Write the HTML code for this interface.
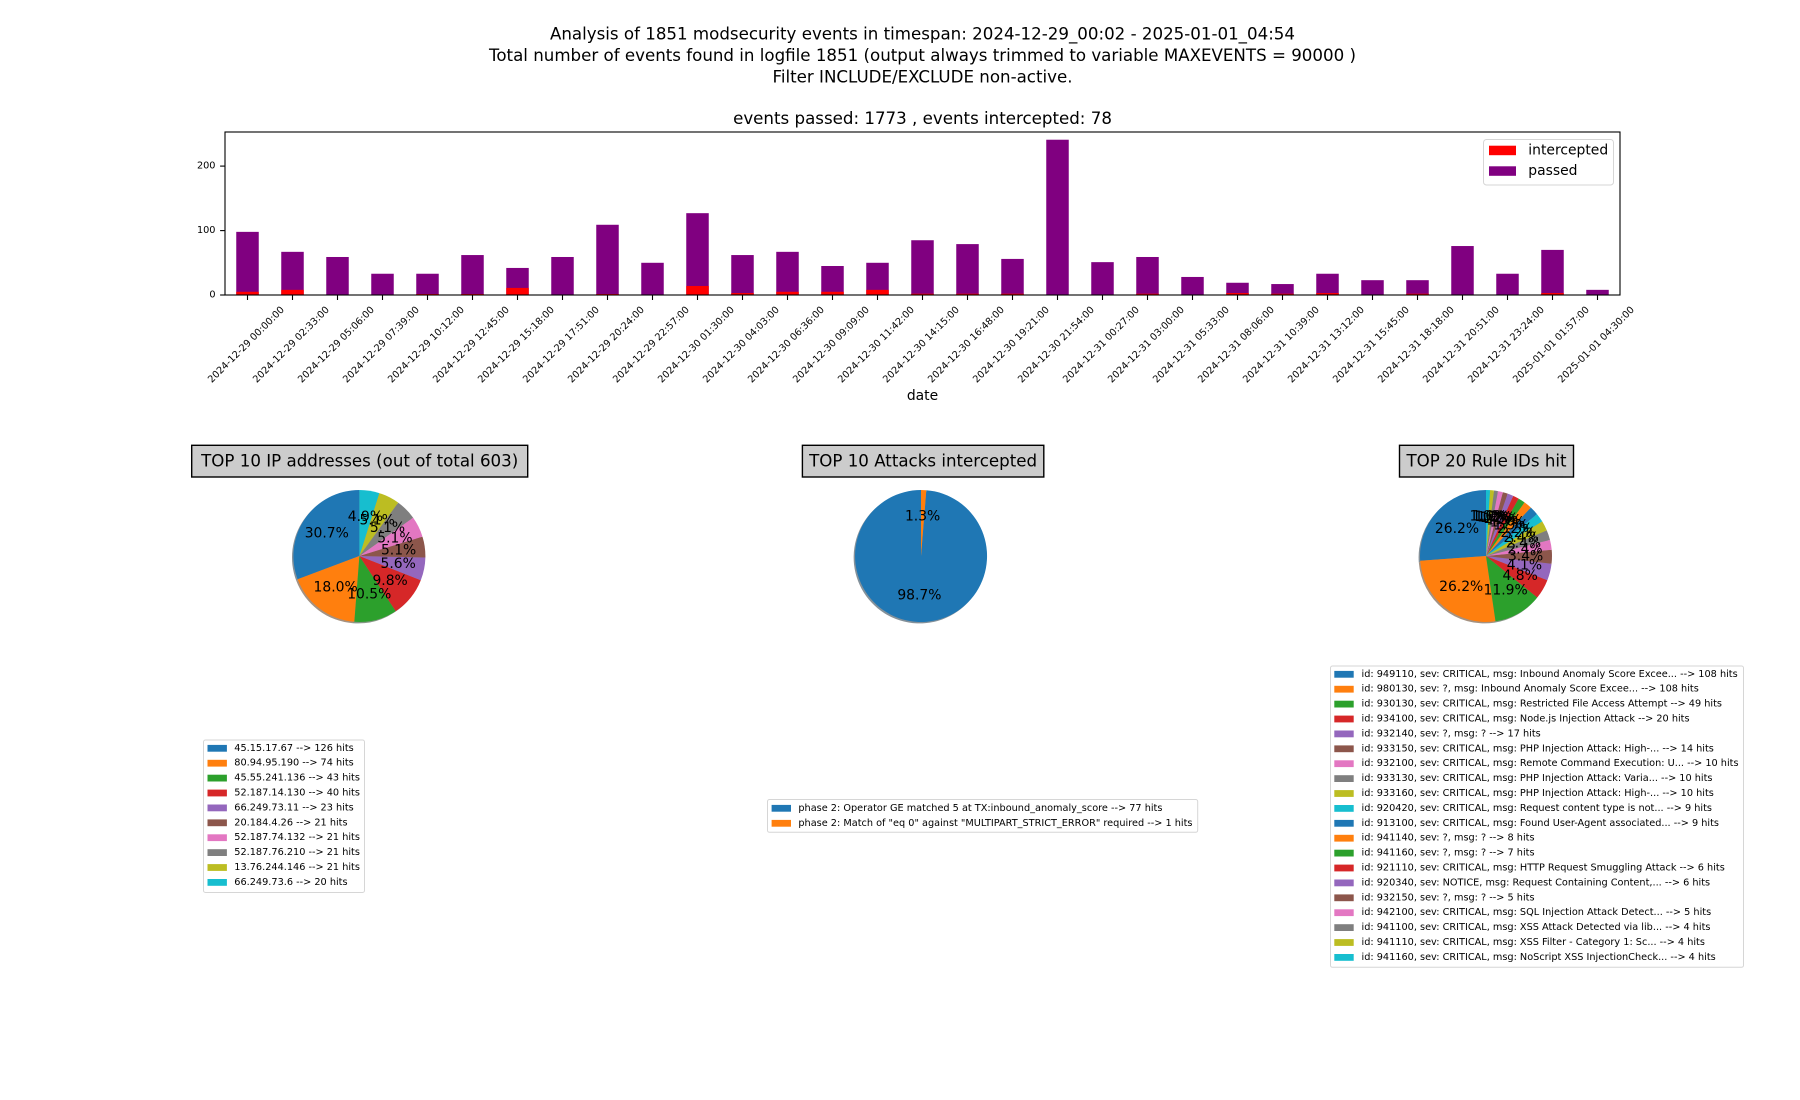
<!DOCTYPE html>
<html>
<head>
<meta charset="utf-8">
<style>
html,body{margin:0;padding:0;background:#fff;}
svg{display:block;}
text{font-family:"DejaVu Sans","Liberation Sans",sans-serif;fill:#000;}
</style>
</head>
<body>
<svg width="1800" height="1100" viewBox="0 0 1800 1100" xmlns="http://www.w3.org/2000/svg">
<rect x="0" y="0" width="1800" height="1100" fill="#fff"/>

<!-- Titles -->
<g font-size="16.67" text-anchor="middle" dominant-baseline="central">
<text x="922.5" y="34">Analysis of 1851 modsecurity events in timespan: 2024-12-29_00:02 - 2025-01-01_04:54</text>
<text x="922.5" y="55.5">Total number of events found in logfile 1851 (output always trimmed to variable MAXEVENTS = 90000 )</text>
<text x="922.5" y="77">Filter INCLUDE/EXCLUDE non-active.</text>
<text x="922.5" y="118.3">events passed: 1773 , events intercepted: 78</text>
</g>

<!-- Bars -->
<g transform="translate(0,295) scale(1,-0.6443)">
<g fill="#800080">
<rect x="236.25" y="0" width="22.5" height="98"/>
<rect x="281.25" y="0" width="22.5" height="67"/>
<rect x="326.25" y="0" width="22.5" height="59"/>
<rect x="371.25" y="0" width="22.5" height="33"/>
<rect x="416.25" y="0" width="22.5" height="33"/>
<rect x="461.25" y="0" width="22.5" height="62"/>
<rect x="506.25" y="0" width="22.5" height="42"/>
<rect x="551.25" y="0" width="22.5" height="59"/>
<rect x="596.25" y="0" width="22.5" height="109"/>
<rect x="641.25" y="0" width="22.5" height="50"/>
<rect x="686.25" y="0" width="22.5" height="127"/>
<rect x="731.25" y="0" width="22.5" height="62"/>
<rect x="776.25" y="0" width="22.5" height="67"/>
<rect x="821.25" y="0" width="22.5" height="45"/>
<rect x="866.25" y="0" width="22.5" height="50"/>
<rect x="911.25" y="0" width="22.5" height="85"/>
<rect x="956.25" y="0" width="22.5" height="79"/>
<rect x="1001.25" y="0" width="22.5" height="56"/>
<rect x="1046.25" y="0" width="22.5" height="241"/>
<rect x="1091.25" y="0" width="22.5" height="51"/>
<rect x="1136.25" y="0" width="22.5" height="59"/>
<rect x="1181.25" y="0" width="22.5" height="28"/>
<rect x="1226.25" y="0" width="22.5" height="19"/>
<rect x="1271.25" y="0" width="22.5" height="17"/>
<rect x="1316.25" y="0" width="22.5" height="33"/>
<rect x="1361.25" y="0" width="22.5" height="23"/>
<rect x="1406.25" y="0" width="22.5" height="23"/>
<rect x="1451.25" y="0" width="22.5" height="76"/>
<rect x="1496.25" y="0" width="22.5" height="33"/>
<rect x="1541.25" y="0" width="22.5" height="70"/>
<rect x="1586.25" y="0" width="22.5" height="8"/>
</g>
<g fill="#ff0000">
<rect x="236.25" y="0" width="22.5" height="5"/>
<rect x="281.25" y="0" width="22.5" height="8"/>
<rect x="416.25" y="0" width="22.5" height="1.5"/>
<rect x="461.25" y="0" width="22.5" height="1.5"/>
<rect x="506.25" y="0" width="22.5" height="11"/>
<rect x="596.25" y="0" width="22.5" height="1.5"/>
<rect x="686.25" y="0" width="22.5" height="14"/>
<rect x="731.25" y="0" width="22.5" height="3"/>
<rect x="776.25" y="0" width="22.5" height="5"/>
<rect x="821.25" y="0" width="22.5" height="5"/>
<rect x="866.25" y="0" width="22.5" height="8"/>
<rect x="911.25" y="0" width="22.5" height="2"/>
<rect x="956.25" y="0" width="22.5" height="2"/>
<rect x="1001.25" y="0" width="22.5" height="2"/>
<rect x="1136.25" y="0" width="22.5" height="2"/>
<rect x="1226.25" y="0" width="22.5" height="3"/>
<rect x="1271.25" y="0" width="22.5" height="2"/>
<rect x="1316.25" y="0" width="22.5" height="3"/>
<rect x="1406.25" y="0" width="22.5" height="2"/>
<rect x="1541.25" y="0" width="22.5" height="3"/>
</g>
</g>

<!-- Axes frame -->
<rect x="225" y="132" width="1395" height="163" fill="none" stroke="#000" stroke-width="1.1"/>

<!-- Y ticks -->
<g stroke="#000" stroke-width="1.1">
<line x1="220.1" y1="295" x2="225" y2="295"/>
<line x1="220.1" y1="230.6" x2="225" y2="230.6"/>
<line x1="220.1" y1="166.1" x2="225" y2="166.1"/>
</g>
<g font-size="9.72" text-anchor="end" dominant-baseline="central">
<text x="215.5" y="295">0</text>
<text x="215.5" y="230.6">100</text>
<text x="215.5" y="166.1">200</text>
</g>

<!-- X ticks -->
<g stroke="#000" stroke-width="1.1">
<line x1="247.5" y1="295" x2="247.5" y2="300"/>
<line x1="292.5" y1="295" x2="292.5" y2="300"/>
<line x1="337.5" y1="295" x2="337.5" y2="300"/>
<line x1="382.5" y1="295" x2="382.5" y2="300"/>
<line x1="427.5" y1="295" x2="427.5" y2="300"/>
<line x1="472.5" y1="295" x2="472.5" y2="300"/>
<line x1="517.5" y1="295" x2="517.5" y2="300"/>
<line x1="562.5" y1="295" x2="562.5" y2="300"/>
<line x1="607.5" y1="295" x2="607.5" y2="300"/>
<line x1="652.5" y1="295" x2="652.5" y2="300"/>
<line x1="697.5" y1="295" x2="697.5" y2="300"/>
<line x1="742.5" y1="295" x2="742.5" y2="300"/>
<line x1="787.5" y1="295" x2="787.5" y2="300"/>
<line x1="832.5" y1="295" x2="832.5" y2="300"/>
<line x1="877.5" y1="295" x2="877.5" y2="300"/>
<line x1="922.5" y1="295" x2="922.5" y2="300"/>
<line x1="967.5" y1="295" x2="967.5" y2="300"/>
<line x1="1012.5" y1="295" x2="1012.5" y2="300"/>
<line x1="1057.5" y1="295" x2="1057.5" y2="300"/>
<line x1="1102.5" y1="295" x2="1102.5" y2="300"/>
<line x1="1147.5" y1="295" x2="1147.5" y2="300"/>
<line x1="1192.5" y1="295" x2="1192.5" y2="300"/>
<line x1="1237.5" y1="295" x2="1237.5" y2="300"/>
<line x1="1282.5" y1="295" x2="1282.5" y2="300"/>
<line x1="1327.5" y1="295" x2="1327.5" y2="300"/>
<line x1="1372.5" y1="295" x2="1372.5" y2="300"/>
<line x1="1417.5" y1="295" x2="1417.5" y2="300"/>
<line x1="1462.5" y1="295" x2="1462.5" y2="300"/>
<line x1="1507.5" y1="295" x2="1507.5" y2="300"/>
<line x1="1552.5" y1="295" x2="1552.5" y2="300"/>
<line x1="1597.5" y1="295" x2="1597.5" y2="300"/>
</g>
<g font-size="9.72" text-anchor="middle" dominant-baseline="central">
<text transform="translate(246.5,345) rotate(-45)">2024-12-29 00:00:00</text>
<text transform="translate(291.5,345) rotate(-45)">2024-12-29 02:33:00</text>
<text transform="translate(336.5,345) rotate(-45)">2024-12-29 05:06:00</text>
<text transform="translate(381.5,345) rotate(-45)">2024-12-29 07:39:00</text>
<text transform="translate(426.5,345) rotate(-45)">2024-12-29 10:12:00</text>
<text transform="translate(471.5,345) rotate(-45)">2024-12-29 12:45:00</text>
<text transform="translate(516.5,345) rotate(-45)">2024-12-29 15:18:00</text>
<text transform="translate(561.5,345) rotate(-45)">2024-12-29 17:51:00</text>
<text transform="translate(606.5,345) rotate(-45)">2024-12-29 20:24:00</text>
<text transform="translate(651.5,345) rotate(-45)">2024-12-29 22:57:00</text>
<text transform="translate(696.5,345) rotate(-45)">2024-12-30 01:30:00</text>
<text transform="translate(741.5,345) rotate(-45)">2024-12-30 04:03:00</text>
<text transform="translate(786.5,345) rotate(-45)">2024-12-30 06:36:00</text>
<text transform="translate(831.5,345) rotate(-45)">2024-12-30 09:09:00</text>
<text transform="translate(876.5,345) rotate(-45)">2024-12-30 11:42:00</text>
<text transform="translate(921.5,345) rotate(-45)">2024-12-30 14:15:00</text>
<text transform="translate(966.5,345) rotate(-45)">2024-12-30 16:48:00</text>
<text transform="translate(1011.5,345) rotate(-45)">2024-12-30 19:21:00</text>
<text transform="translate(1056.5,345) rotate(-45)">2024-12-30 21:54:00</text>
<text transform="translate(1101.5,345) rotate(-45)">2024-12-31 00:27:00</text>
<text transform="translate(1146.5,345) rotate(-45)">2024-12-31 03:00:00</text>
<text transform="translate(1191.5,345) rotate(-45)">2024-12-31 05:33:00</text>
<text transform="translate(1236.5,345) rotate(-45)">2024-12-31 08:06:00</text>
<text transform="translate(1281.5,345) rotate(-45)">2024-12-31 10:39:00</text>
<text transform="translate(1326.5,345) rotate(-45)">2024-12-31 13:12:00</text>
<text transform="translate(1371.5,345) rotate(-45)">2024-12-31 15:45:00</text>
<text transform="translate(1416.5,345) rotate(-45)">2024-12-31 18:18:00</text>
<text transform="translate(1461.5,345) rotate(-45)">2024-12-31 20:51:00</text>
<text transform="translate(1506.5,345) rotate(-45)">2024-12-31 23:24:00</text>
<text transform="translate(1551.5,345) rotate(-45)">2025-01-01 01:57:00</text>
<text transform="translate(1596.5,345) rotate(-45)">2025-01-01 04:30:00</text>
</g>
<text x="922.5" y="396" font-size="13.9" text-anchor="middle" dominant-baseline="central">date</text>

<!-- Bar legend -->
<rect x="1483.5" y="139.5" width="130" height="45.5" rx="3" ry="3" fill="#fff" fill-opacity="0.8" stroke="#d6d6d6" stroke-width="1"/>
<rect x="1489" y="145.7" width="27" height="9.5" fill="#ff0000"/>
<rect x="1489" y="166.3" width="27" height="9.5" fill="#800080"/>
<g font-size="13.9" dominant-baseline="central">
<text x="1528.3" y="150.5">intercepted</text>
<text x="1528.3" y="171.2">passed</text>
</g>

<!-- Pie path definitions -->
<defs>
<path id="a0" d="M359.4,556 L359.4,490 A66,66 0 0 0 297.63,579.26 Z"/>
<path id="a1" d="M359.4,556 L297.63,579.26 A66,66 0 0 0 354.35,621.81 Z"/>
<path id="a2" d="M359.4,556 L354.35,621.81 A66,66 0 0 0 395.70,611.12 Z"/>
<path id="a3" d="M359.4,556 L395.70,611.12 A66,66 0 0 0 420.80,580.20 Z"/>
<path id="a4" d="M359.4,556 L420.80,580.20 A66,66 0 0 0 425.38,557.52 Z"/>
<path id="a5" d="M359.4,556 L425.38,557.52 A66,66 0 0 0 422.47,536.57 Z"/>
<path id="a6" d="M359.4,556 L422.47,536.57 A66,66 0 0 0 413.09,517.61 Z"/>
<path id="a7" d="M359.4,556 L413.09,517.61 A66,66 0 0 0 398.19,502.60 Z"/>
<path id="a8" d="M359.4,556 L398.19,502.60 A66,66 0 0 0 379.31,493.08 Z"/>
<path id="a9" d="M359.4,556 L379.31,493.08 A66,66 0 0 0 359.4,490 Z"/>

<path id="b0" d="M921,556 L921,490 A66,66 0 1 0 926.31,490.21 Z"/>
<path id="b1" d="M921,556 L926.31,490.21 A66,66 0 0 0 921,490 Z"/>

<path id="c0" d="M1486,556 L1486,490 A66,66 0 0 0 1420.17,560.77 Z"/>
<path id="c1" d="M1486,556 L1420.17,560.77 A66,66 0 0 0 1495.51,621.31 Z"/>
<path id="c2" d="M1486,556 L1495.51,621.31 A66,66 0 0 0 1537.29,597.54 Z"/>
<path id="c3" d="M1486,556 L1537.29,597.54 A66,66 0 0 0 1547.37,580.27 Z"/>
<path id="c4" d="M1486,556 L1547.37,580.27 A66,66 0 0 0 1551.54,563.76 Z"/>
<path id="c5" d="M1486,556 L1551.54,563.76 A66,66 0 0 0 1551.70,549.73 Z"/>
<path id="c6" d="M1486,556 L1551.70,549.73 A66,66 0 0 0 1549.99,539.85 Z"/>
<path id="c7" d="M1486,556 L1549.99,539.85 A66,66 0 0 0 1546.81,530.34 Z"/>
<path id="c8" d="M1486,556 L1546.81,530.34 A66,66 0 0 0 1542.22,521.42 Z"/>
<path id="c9" d="M1486,556 L1542.22,521.42 A66,66 0 0 0 1536.97,514.08 Z"/>
<path id="c10" d="M1486,556 L1536.97,514.08 A66,66 0 0 0 1530.79,507.53 Z"/>
<path id="c11" d="M1486,556 L1530.79,507.53 A66,66 0 0 0 1524.54,502.42 Z"/>
<path id="c12" d="M1486,556 L1524.54,502.42 A66,66 0 0 0 1518.64,498.63 Z"/>
<path id="c13" d="M1486,556 L1518.64,498.63 A66,66 0 0 0 1513.27,495.90 Z"/>
<path id="c14" d="M1486,556 L1513.27,495.90 A66,66 0 0 0 1507.68,493.66 Z"/>
<path id="c15" d="M1486,556 L1507.68,493.66 A66,66 0 0 0 1502.88,492.20 Z"/>
<path id="c16" d="M1486,556 L1502.88,492.20 A66,66 0 0 0 1497.98,491.10 Z"/>
<path id="c17" d="M1486,556 L1497.98,491.10 A66,66 0 0 0 1494.01,490.49 Z"/>
<path id="c18" d="M1486,556 L1494.01,490.49 A66,66 0 0 0 1490.01,490.12 Z"/>
<path id="c19" d="M1486,556 L1490.01,490.12 A66,66 0 0 0 1486,490 Z"/>
</defs>

<!-- Pie shadows -->
<g transform="translate(-1.4,1.4)" opacity="0.5">
<use href="#a0" fill="#092436"/><use href="#a1" fill="#4d2604"/><use href="#a2" fill="#0d300d"/><use href="#a3" fill="#400c0c"/><use href="#a4" fill="#2c1f39"/><use href="#a5" fill="#2a1a17"/><use href="#a6" fill="#44243a"/><use href="#a7" fill="#262626"/><use href="#a8" fill="#38390a"/><use href="#a9" fill="#07393e"/>
<use href="#b0" fill="#092436"/><use href="#b1" fill="#4d2604"/>
<use href="#c0" fill="#092436"/><use href="#c1" fill="#4d2604"/><use href="#c2" fill="#0d300d"/><use href="#c3" fill="#400c0c"/><use href="#c4" fill="#2c1f39"/><use href="#c5" fill="#2a1a17"/><use href="#c6" fill="#44243a"/><use href="#c7" fill="#262626"/><use href="#c8" fill="#38390a"/><use href="#c9" fill="#07393e"/>
<use href="#c10" fill="#092436"/><use href="#c11" fill="#4d2604"/><use href="#c12" fill="#0d300d"/><use href="#c13" fill="#400c0c"/><use href="#c14" fill="#2c1f39"/><use href="#c15" fill="#2a1a17"/><use href="#c16" fill="#44243a"/><use href="#c17" fill="#262626"/><use href="#c18" fill="#38390a"/><use href="#c19" fill="#07393e"/>
</g>

<!-- Pie wedges -->
<g>
<use href="#a0" fill="#1f77b4"/><use href="#a1" fill="#ff7f0e"/><use href="#a2" fill="#2ca02c"/><use href="#a3" fill="#d62728"/><use href="#a4" fill="#9467bd"/><use href="#a5" fill="#8c564b"/><use href="#a6" fill="#e377c2"/><use href="#a7" fill="#7f7f7f"/><use href="#a8" fill="#bcbd22"/><use href="#a9" fill="#17becf"/>
<use href="#b0" fill="#1f77b4"/><use href="#b1" fill="#ff7f0e"/>
<use href="#c0" fill="#1f77b4"/><use href="#c1" fill="#ff7f0e"/><use href="#c2" fill="#2ca02c"/><use href="#c3" fill="#d62728"/><use href="#c4" fill="#9467bd"/><use href="#c5" fill="#8c564b"/><use href="#c6" fill="#e377c2"/><use href="#c7" fill="#7f7f7f"/><use href="#c8" fill="#bcbd22"/><use href="#c9" fill="#17becf"/>
<use href="#c10" fill="#1f77b4"/><use href="#c11" fill="#ff7f0e"/><use href="#c12" fill="#2ca02c"/><use href="#c13" fill="#d62728"/><use href="#c14" fill="#9467bd"/><use href="#c15" fill="#8c564b"/><use href="#c16" fill="#e377c2"/><use href="#c17" fill="#7f7f7f"/><use href="#c18" fill="#bcbd22"/><use href="#c19" fill="#17becf"/>
</g>

<!-- Pie labels -->
<g font-size="13.9" text-anchor="middle" dominant-baseline="central">
<text x="326.8" y="533.5">30.7%</text>
<text x="335.6" y="587.7">18.0%</text>
<text x="369.3" y="594.3">10.5%</text>
<text x="390.1" y="581">9.8%</text>
<text x="398.2" y="563.8">5.6%</text>
<text x="398.6" y="550.6">5.1%</text>
<text x="394.9" y="538.4">5.1%</text>
<text x="387.5" y="528.1">5.1%</text>
<text x="377.2" y="520.6">5.1%</text>
<text x="365.4" y="516.9">4.9%</text>

<text x="919.4" y="595.6">98.7%</text>
<text x="922.6" y="516.4">1.3%</text>

<text x="1457.0" y="529.0">26.2%</text>
<text x="1461.2" y="586.9">26.2%</text>
<text x="1505.6" y="590.4">11.9%</text>
<text x="1520.2" y="576.0">4.8%</text>
<text x="1524.4" y="565.7">4.1%</text>
<text x="1525.6" y="556.5">3.4%</text>
<text x="1525.0" y="549.3">2.4%</text>
<text x="1523.5" y="543.4">2.4%</text>
<text x="1521.2" y="537.9">2.4%</text>
<text x="1518.2" y="533.0">2.2%</text>
<text x="1514.8" y="528.8">2.2%</text>
<text x="1511.0" y="525.3">1.9%</text>
<text x="1507.4" y="522.7">1.7%</text>
<text x="1504.0" y="520.7">1.5%</text>
<text x="1500.7" y="519.2">1.5%</text>
<text x="1497.6" y="518.1">1.2%</text>
<text x="1494.7" y="517.4">1.2%</text>
<text x="1492.0" y="516.9">1.0%</text>
<text x="1489.6" y="516.6">1.0%</text>
<text x="1487.2" y="516.4">1.0%</text>
</g>

<!-- Pie title boxes -->
<g fill="#cccccc" stroke="#000" stroke-width="1.4">
<rect x="191.7" y="445.3" width="336" height="31.7"/>
<rect x="802.4" y="445.3" width="241.4" height="31.7"/>
<rect x="1399.5" y="445.3" width="174" height="31.7"/>
</g>
<g font-size="16.67" text-anchor="middle" dominant-baseline="central">
<text x="359.7" y="461">TOP 10 IP addresses (out of total 603)</text>
<text x="923.1" y="461">TOP 10 Attacks intercepted</text>
<text x="1486.5" y="461">TOP 20 Rule IDs hit</text>
</g>

<!-- Legend 1 -->
<rect x="203.5" y="740" width="161" height="152.5" rx="2" ry="2" fill="#fff" stroke="#d6d6d6" stroke-width="1"/>
<g>
<rect x="207.5" y="744.9" width="19.4" height="6.8" fill="#1f77b4"/>
<rect x="207.5" y="759.8" width="19.4" height="6.8" fill="#ff7f0e"/>
<rect x="207.5" y="774.7" width="19.4" height="6.8" fill="#2ca02c"/>
<rect x="207.5" y="789.6" width="19.4" height="6.8" fill="#d62728"/>
<rect x="207.5" y="804.5" width="19.4" height="6.8" fill="#9467bd"/>
<rect x="207.5" y="819.4" width="19.4" height="6.8" fill="#8c564b"/>
<rect x="207.5" y="834.3" width="19.4" height="6.8" fill="#e377c2"/>
<rect x="207.5" y="849.2" width="19.4" height="6.8" fill="#7f7f7f"/>
<rect x="207.5" y="864.1" width="19.4" height="6.8" fill="#bcbd22"/>
<rect x="207.5" y="879.0" width="19.4" height="6.8" fill="#17becf"/>
</g>
<g font-size="9.72" dominant-baseline="central">
<text x="234.3" y="748.3">45.15.17.67 --&gt; 126 hits</text>
<text x="234.3" y="763.2">80.94.95.190 --&gt; 74 hits</text>
<text x="234.3" y="778.1">45.55.241.136 --&gt; 43 hits</text>
<text x="234.3" y="793.0">52.187.14.130 --&gt; 40 hits</text>
<text x="234.3" y="807.9">66.249.73.11 --&gt; 23 hits</text>
<text x="234.3" y="822.8">20.184.4.26 --&gt; 21 hits</text>
<text x="234.3" y="837.7">52.187.74.132 --&gt; 21 hits</text>
<text x="234.3" y="852.6">52.187.76.210 --&gt; 21 hits</text>
<text x="234.3" y="867.5">13.76.244.146 --&gt; 21 hits</text>
<text x="234.3" y="882.4">66.249.73.6 --&gt; 20 hits</text>
</g>

<!-- Legend 2 -->
<rect x="767.5" y="799.5" width="430.2" height="32.8" rx="2" ry="2" fill="#fff" stroke="#d6d6d6" stroke-width="1"/>
<rect x="771.6" y="804.9" width="19.4" height="6.8" fill="#1f77b4"/>
<rect x="771.6" y="819.9" width="19.4" height="6.8" fill="#ff7f0e"/>
<g font-size="9.72" dominant-baseline="central">
<text x="798.4" y="808.3">phase 2: Operator GE matched 5 at TX:inbound_anomaly_score --&gt; 77 hits</text>
<text x="798.4" y="823.3">phase 2: Match of "eq 0" against "MULTIPART_STRICT_ERROR" required --&gt; 1 hits</text>
</g>

<!-- Legend 3 -->
<rect x="1330.5" y="666" width="413" height="301.3" rx="2" ry="2" fill="#fff" stroke="#d6d6d6" stroke-width="1"/>
<g>
<rect x="1334.3" y="670.9" width="19.4" height="6.8" fill="#1f77b4"/>
<rect x="1334.3" y="685.8" width="19.4" height="6.8" fill="#ff7f0e"/>
<rect x="1334.3" y="700.7" width="19.4" height="6.8" fill="#2ca02c"/>
<rect x="1334.3" y="715.6" width="19.4" height="6.8" fill="#d62728"/>
<rect x="1334.3" y="730.5" width="19.4" height="6.8" fill="#9467bd"/>
<rect x="1334.3" y="745.4" width="19.4" height="6.8" fill="#8c564b"/>
<rect x="1334.3" y="760.3" width="19.4" height="6.8" fill="#e377c2"/>
<rect x="1334.3" y="775.2" width="19.4" height="6.8" fill="#7f7f7f"/>
<rect x="1334.3" y="790.1" width="19.4" height="6.8" fill="#bcbd22"/>
<rect x="1334.3" y="805.0" width="19.4" height="6.8" fill="#17becf"/>
<rect x="1334.3" y="819.9" width="19.4" height="6.8" fill="#1f77b4"/>
<rect x="1334.3" y="834.8" width="19.4" height="6.8" fill="#ff7f0e"/>
<rect x="1334.3" y="849.7" width="19.4" height="6.8" fill="#2ca02c"/>
<rect x="1334.3" y="864.6" width="19.4" height="6.8" fill="#d62728"/>
<rect x="1334.3" y="879.5" width="19.4" height="6.8" fill="#9467bd"/>
<rect x="1334.3" y="894.4" width="19.4" height="6.8" fill="#8c564b"/>
<rect x="1334.3" y="909.3" width="19.4" height="6.8" fill="#e377c2"/>
<rect x="1334.3" y="924.2" width="19.4" height="6.8" fill="#7f7f7f"/>
<rect x="1334.3" y="939.1" width="19.4" height="6.8" fill="#bcbd22"/>
<rect x="1334.3" y="954.0" width="19.4" height="6.8" fill="#17becf"/>
</g>
<g font-size="9.72" dominant-baseline="central">
<text x="1361.5" y="674.3">id: 949110, sev: CRITICAL, msg: Inbound Anomaly Score Excee... --&gt; 108 hits</text>
<text x="1361.5" y="689.2">id: 980130, sev: ?, msg: Inbound Anomaly Score Excee... --&gt; 108 hits</text>
<text x="1361.5" y="704.1">id: 930130, sev: CRITICAL, msg: Restricted File Access Attempt --&gt; 49 hits</text>
<text x="1361.5" y="719.0">id: 934100, sev: CRITICAL, msg: Node.js Injection Attack --&gt; 20 hits</text>
<text x="1361.5" y="733.9">id: 932140, sev: ?, msg: ? --&gt; 17 hits</text>
<text x="1361.5" y="748.8">id: 933150, sev: CRITICAL, msg: PHP Injection Attack: High-... --&gt; 14 hits</text>
<text x="1361.5" y="763.7">id: 932100, sev: CRITICAL, msg: Remote Command Execution: U... --&gt; 10 hits</text>
<text x="1361.5" y="778.6">id: 933130, sev: CRITICAL, msg: PHP Injection Attack: Varia... --&gt; 10 hits</text>
<text x="1361.5" y="793.5">id: 933160, sev: CRITICAL, msg: PHP Injection Attack: High-... --&gt; 10 hits</text>
<text x="1361.5" y="808.4">id: 920420, sev: CRITICAL, msg: Request content type is not... --&gt; 9 hits</text>
<text x="1361.5" y="823.3">id: 913100, sev: CRITICAL, msg: Found User-Agent associated... --&gt; 9 hits</text>
<text x="1361.5" y="838.2">id: 941140, sev: ?, msg: ? --&gt; 8 hits</text>
<text x="1361.5" y="853.1">id: 941160, sev: ?, msg: ? --&gt; 7 hits</text>
<text x="1361.5" y="868.0">id: 921110, sev: CRITICAL, msg: HTTP Request Smuggling Attack --&gt; 6 hits</text>
<text x="1361.5" y="882.9">id: 920340, sev: NOTICE, msg: Request Containing Content,... --&gt; 6 hits</text>
<text x="1361.5" y="897.8">id: 932150, sev: ?, msg: ? --&gt; 5 hits</text>
<text x="1361.5" y="912.7">id: 942100, sev: CRITICAL, msg: SQL Injection Attack Detect... --&gt; 5 hits</text>
<text x="1361.5" y="927.6">id: 941100, sev: CRITICAL, msg: XSS Attack Detected via lib... --&gt; 4 hits</text>
<text x="1361.5" y="942.5">id: 941110, sev: CRITICAL, msg: XSS Filter - Category 1: Sc... --&gt; 4 hits</text>
<text x="1361.5" y="957.4">id: 941160, sev: CRITICAL, msg: NoScript XSS InjectionCheck... --&gt; 4 hits</text>
</g>
</svg>
</body>
</html>
